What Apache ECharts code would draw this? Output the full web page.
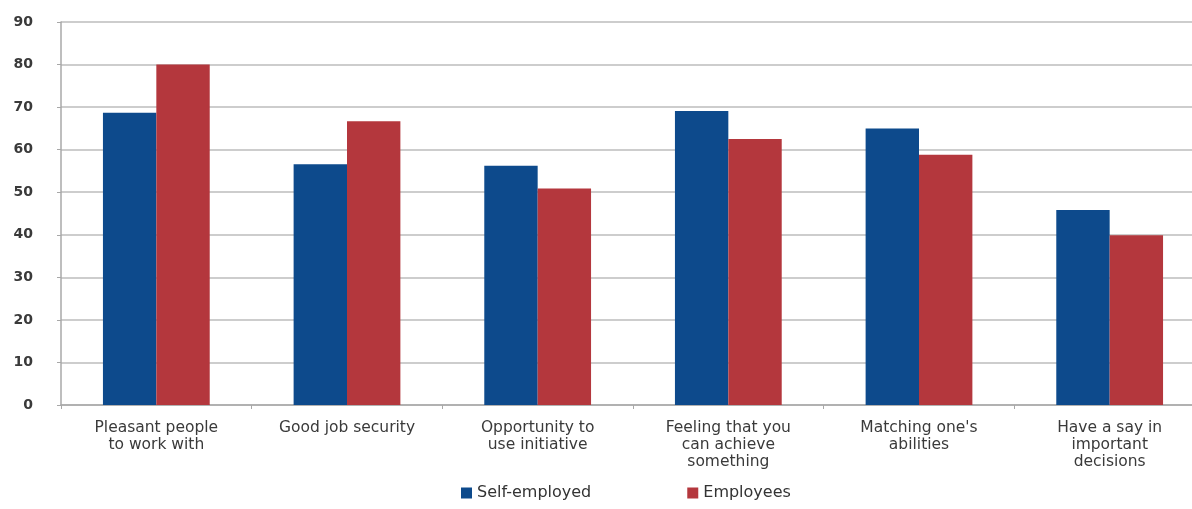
<!DOCTYPE html>
<html>
<head>
<meta charset="utf-8">
<script src="https://cdn.jsdelivr.net/npm/echarts@6/dist/echarts.min.js"></script>
<style>
html,body{margin:0;padding:0;background:#fff;overflow:hidden;}
#chart{width:1205px;height:509px;}
</style>
</head>
<body>
<div id="chart"></div>
<script>
const categories = [
  "Pleasant people\nto work with",
  "Good job security",
  "Opportunity to\nuse initiative",
  "Feeling that you\ncan achieve\nsomething",
  "Matching one's\nabilities",
  "Have a say in\nimportant\ndecisions"
];
const selfEmployed = [68.7, 56.6, 56.2, 69.1, 65.0, 45.8];
const employees = [80.0, 66.7, 50.9, 62.5, 58.8, 39.9];
const yTicks = { min: 0, max: 90, interval: 10 };

const FONT = 'DejaVu Sans';
const chart = echarts.init(document.getElementById('chart'), null, {renderer: 'canvas'});
chart.setOption({
  animation: false,
  textStyle: { fontFamily: FONT },
  grid: { left: 61, top: 22, right: 0, bottom: 104, containLabel: false },
  legend: {
    bottom: 3,
    left: 456,
    itemWidth: 11,
    itemHeight: 11,
    itemGap: 96,
    icon: 'rect',
    textStyle: { fontSize: 16, color: '#333', fontFamily: FONT },
    data: ['Self-employed', 'Employees']
  },
  xAxis: {
    type: 'category',
    data: categories,
    axisLine: { lineStyle: { color: '#a8a8a8', width: 1.5 } },
    axisTick: { show: true, length: 4, lineStyle: { color: '#a8a8a8' } },
    axisLabel: { fontSize: 15.5, color: '#3a3a3a', lineHeight: 17, margin: 14, interval: 0, fontFamily: FONT }
  },
  yAxis: {
    type: 'value',
    min: yTicks.min, max: yTicks.max, interval: yTicks.interval,
    axisLine: { show: true, lineStyle: { color: '#a8a8a8', width: 1.5 } },
    axisTick: { show: true, length: 4, lineStyle: { color: '#a8a8a8' } },
    axisLabel: { fontSize: 14, color: '#3a3a3a', fontWeight: 'bold', margin: 28, align: 'right', fontFamily: FONT },
    splitLine: { lineStyle: { color: '#bcbcbc', width: 1.6 } }
  },
  series: [
    { name: 'Self-employed', type: 'bar', data: selfEmployed, barGap: '0%', barCategoryGap: '44%',
      itemStyle: { color: '#0d4a8c' } },
    { name: 'Employees', type: 'bar', data: employees, barGap: '0%', barCategoryGap: '44%',
      itemStyle: { color: '#b4373d' } }
  ]
});
</script>
</body>
</html>
